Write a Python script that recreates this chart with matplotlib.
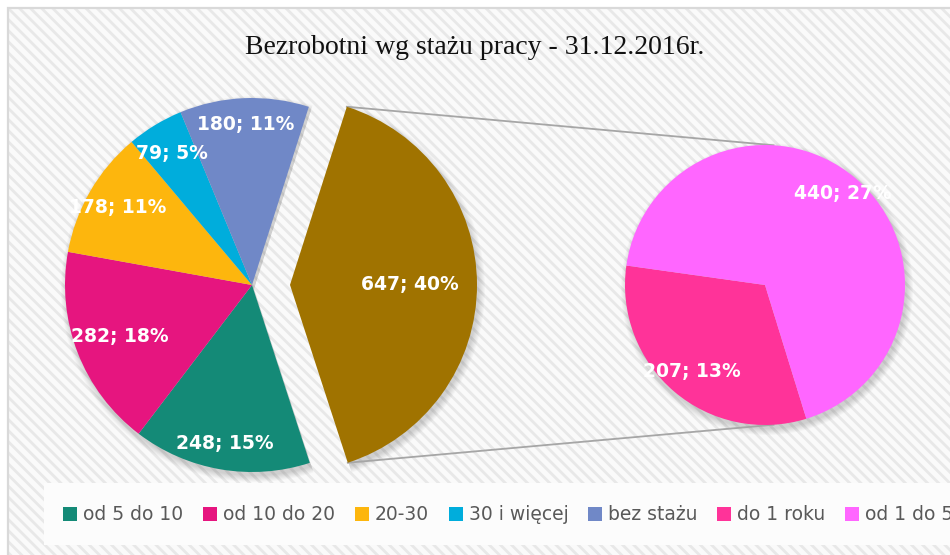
import matplotlib
matplotlib.use("Agg")
import matplotlib.pyplot as plt
from matplotlib.patches import Rectangle
import numpy as np

# Data
main_labels = ["od 5 do 10", "od 10 do 20", "20-30", "30 i więcej", "bez stażu"]
main_values = [248, 282, 178, 79, 180]
main_pct = [15, 18, 11, 5, 11]
sub_labels = ["do 1 roku", "od 1 do 5"]
sub_values = [207, 440]
sub_pct = [13, 27]
other_pct = 40
other_value = sum(sub_values)

main_colors = ["#148A77", "#E6157F", "#FDB60D", "#00ADDC", "#7088C7"]
other_color = "#A07300"
sub_colors = ["#FF3399", "#FF66FF"]

plt.rcParams["hatch.color"] = "#e8e8e8"
plt.rcParams["hatch.linewidth"] = 2.0

fig = plt.figure(figsize=(9.5, 5.55), dpi=100)
fig.patch.set_facecolor("white")
ax = fig.add_axes([0, 0, 1, 1])

# background with diagonal stripes and frame
ax.add_patch(Rectangle((8, -20), 960, 567, facecolor="#fafafa", edgecolor="#e8e8e8",
                       hatch="\\\\\\", linewidth=0, zorder=0))
ax.add_patch(Rectangle((8, -20), 960, 567, facecolor="none", edgecolor="#d9d9d9",
                       linewidth=1.6, zorder=1))
# legend box
ax.add_patch(Rectangle((44, 10), 930, 62, facecolor="#fcfcfc", edgecolor="none", zorder=1))

# left pie
lc = (252, 270)
lr = 187
vals = main_values + [other_value]
cols = main_colors + [other_color]
expl = [0, 0, 0, 0, 0, 38]   # offset of the "other" slice, data units

# soft shadows
for k in range(7):
    ax.pie(vals, center=(lc[0] + 2, lc[1] - 4), radius=lr + k, explode=expl,
           startangle=-72, counterclock=False, colors=["#000000"] * len(vals),
           wedgeprops=dict(linewidth=0, alpha=0.022, zorder=2), frame=True)
    ax.pie(sub_values, center=(765 + 2, 270 - 4), radius=140 + k, startangle=172,
           colors=["#000000"] * 2, wedgeprops=dict(linewidth=0, alpha=0.022, zorder=2), frame=True)

left_wedges, _ = ax.pie(vals, center=lc, radius=lr, explode=expl, startangle=-72,
                        counterclock=False, colors=cols,
                        wedgeprops=dict(linewidth=0, zorder=3), frame=True)

# right pie
rc = (765, 270)
rr = 140
right_wedges, _ = ax.pie(sub_values, center=rc, radius=rr, startangle=172, colors=sub_colors,
                         wedgeprops=dict(linewidth=0, zorder=3), frame=True)

# labels
left_text = [f"{v}; {p}%" for v, p in zip(main_values, main_pct)] + [f"{other_value}; {other_pct}%"]
left_dist = [0.86, 0.76, 0.83, 0.82, 0.86, 0.64]
for w, t, d in zip(left_wedges, left_text, left_dist):
    a = np.deg2rad((w.theta1 + w.theta2) / 2)
    ax.text(w.center[0] + d * w.r * np.cos(a), w.center[1] + d * w.r * np.sin(a), t,
            color="white", fontsize=13.5, fontweight="bold", ha="center", va="center", zorder=5)

right_text = [f"{v}; {p}%" for v, p in zip(sub_values, sub_pct)]
right_dist = [0.81, 0.86]
for w, t, d in zip(right_wedges, right_text, right_dist):
    a = np.deg2rad((w.theta1 + w.theta2) / 2)
    ax.text(w.center[0] + d * w.r * np.cos(a), w.center[1] + d * w.r * np.sin(a), t,
            color="white", fontsize=13.5, fontweight="bold", ha="center", va="center", zorder=5)

# connector lines
bw = left_wedges[-1]
pts = []
for th in (bw.theta1, bw.theta2):
    t = np.deg2rad(th)
    pts.append((bw.center[0] + bw.r * np.cos(t), bw.center[1] + bw.r * np.sin(t)))
top = max(pts, key=lambda p: p[1])
bot = min(pts, key=lambda p: p[1])
for p, ang in ((top, 86.5), (bot, -86.5)):
    t = np.deg2rad(ang)
    ax.plot([p[0], rc[0] + rr * np.cos(t)], [p[1], rc[1] + rr * np.sin(t)],
            color="#a6a6a6", linewidth=1.3, zorder=2.5)

ax.set_xlim(0, 950)
ax.set_ylim(0, 555)
ax.set_aspect("auto")
ax.axis("off")

ax.text(475, 555 - 48, "Bezrobotni wg stażu pracy - 31.12.2016r.", fontsize=20,
        family=["Liberation Serif", "DejaVu Serif"], color="#111111", ha="center", va="center", zorder=5)

handles = left_wedges[:-1] + right_wedges
leg = fig.legend(handles, main_labels + sub_labels, loc="center left",
                 bbox_to_anchor=(63 / 950, 1 - 515 / 555), ncol=7, frameon=False,
                 fontsize=13.5, handlelength=0.75, handleheight=0.75, handletextpad=0.32,
                 columnspacing=1.05, borderpad=0, borderaxespad=0)
for t in leg.get_texts():
    t.set_color("#595959")

fig.savefig("out.png", dpi=100)
